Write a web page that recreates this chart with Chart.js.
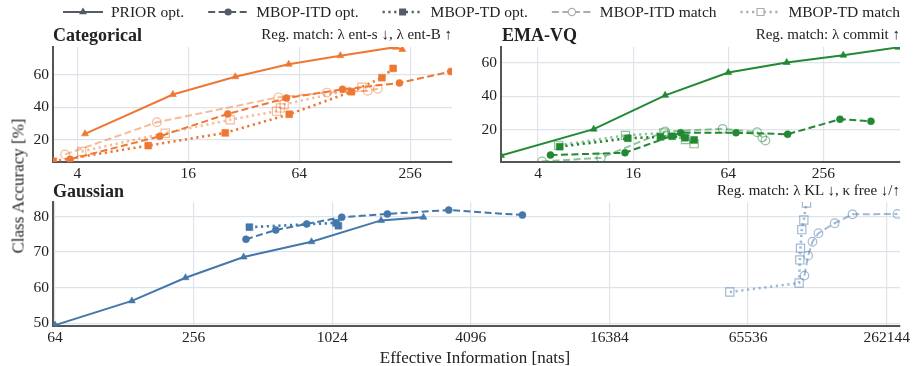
<!DOCTYPE html>
<html>
<head>
<meta charset="utf-8">
<script src="https://cdn.jsdelivr.net/npm/chart.js@4.4.1/dist/chart.umd.min.js"></script>
<style>
  body { margin: 0; background: #fff; width: 913px; height: 366px; position: relative; overflow: hidden;
         font-family: "Liberation Serif", serif; color: #222; }
  canvas { position: absolute; }
  .t { position: absolute; white-space: nowrap; line-height: 1; }
  .b { font-weight: bold; font-size: 18px; }
  .s { font-size: 15px; }
</style>
</head>
<body>
<canvas id="legend" width="913" height="26" style="left:0px;top:0px"></canvas>
<canvas id="cat" width="460" height="146" style="left:0px;top:40px"></canvas>
<canvas id="vq" width="458" height="146" style="left:455px;top:40px"></canvas>
<canvas id="gauss" width="913" height="155" style="left:0px;top:195px"></canvas>

<div class="t b" style="left:53px;top:26px">Categorical</div>
<div class="t s" style="right:461px;top:27px">Reg. match: λ ent-s ↓, λ ent-B ↑</div>
<div class="t b" style="left:502px;top:26px">EMA-VQ</div>
<div class="t s" style="right:13px;top:27px">Reg. match: λ commit ↑</div>
<div class="t b" style="left:53px;top:182px">Gaussian</div>
<div class="t s" style="right:13px;top:183px">Reg. match: λ KL ↓, κ free ↓/↑</div>
<div class="t" style="font-size:17px;left:18px;top:186px;transform:translate(-50%,-50%) rotate(-90deg)">Class Accuracy [%]</div>
<div class="t" style="font-size:17px;left:475px;top:357px;transform:translate(-50%,-50%)">Effective Information [nats]</div>

<script>
const seriesNames = ["PRIOR opt.", "MBOP-ITD opt.", "MBOP-TD opt.", "MBOP-ITD match", "MBOP-TD match"];

// Categorical  [effective info, accuracy]
const catPriorOpt = [[4.4, 23.8], [13.2, 47.9], [28.8, 58.8], [56.1, 66.4], [107, 71.7], [212, 76.9], [232, 75.5]];
const catItdOpt = [[3.65, 8.2], [11.2, 22.3], [26.2, 36.0], [54.6, 45.7], [110, 51.1], [224, 55.0], [425, 62.0]];
const catTdOpt = [[2.96, 7.0], [9.7, 16.6], [25.4, 24.4], [56.5, 35.8], [123, 49.6], [180, 58.2], [207, 63.9]];
const catItdMatch = [[3.43, 11.2], [10.8, 30.9], [49.4, 46.2], [90.5, 49.1], [150.6, 50.2], [171, 51.4]];
const catTdMatch = [[4.22, 13.0], [12.0, 24.2], [27.0, 32.4], [48.2, 37.7], [50.6, 39.7], [53, 41.8], [140, 52.4]];

// EMA-VQ
const vqPriorOpt = [[2.33, 4.8], [9.0, 20.4], [25.5, 40.5], [64, 54.0], [150, 60.0], [342, 64.3], [764, 69.0]];
const vqItdOpt = [[4.79, 5.0], [14.2, 6.4], [32, 18.3], [71.6, 18.3], [152, 17.4], [326, 26.3], [512, 25.1]];
const vqTdOpt = [[5.48, 10.0], [14.8, 15.0], [23.8, 15.8], [28.2, 16.2], [34.1, 15.3], [38.9, 14.0]];
const vqItdMatch = [[4.24, 1.2], [10.0, 3.4], [25.5, 19.0], [58.9, 20.6], [97.4, 18.6], [105, 15.5], [110, 13.6]];
const vqTdMatch = [[5.4, 10.8], [14.3, 16.7], [25, 18.2], [34.3, 14.3], [38.9, 11.8]];

// Gaussian
const gPriorOpt = [[64, 49.5], [138, 56.3], [236, 62.8], [422, 68.6], [832, 72.9], [1669, 78.9], [2550, 79.8]];
const gItdOpt = [[432, 73.6], [582, 76.2], [793, 77.9], [1126, 79.8], [1777, 80.7], [3283, 81.8], [6860, 80.4]];
const gTdOpt = [[447, 77.0], [1064, 78.2], [1089, 77.4]];
const gItdMatch = [[115200, 63.4], [119500, 69.0], [124800, 72.9], [132500, 75.3], [155900, 78.1], [186300, 80.6], [292000, 80.7]];
const gTdMatch = [[54600, 58.8], [109200, 61.3], [110000, 67.8], [110700, 71.1], [112200, 76.3], [114500, 79.0], [117600, 83.8]];

// tick labels
const infoTicksSmall = [4, 16, 64, 256];
const accTicksTop = [20, 40, 60];
const infoTicksGauss = [64, 256, 1024, 4096, 16384, 65536, 262144];
const accTicksGauss = [50, 60, 70, 80];

const ORANGE = "#EE7733", GREEN = "#228833", BLUE = "#4477AA";

const looks = [
  { dash: [], style: "triangle", radius: 4, open: false, fade: 1, width: 2 },
  { dash: [7, 3.5], style: "circle", radius: 3.5, open: false, fade: 1, width: 2 },
  { dash: [2.2, 3.6], style: "rect", radius: 4.8, open: false, fade: 1, width: 2.6 },
  { dash: [7, 3.5], style: "circle", radius: 4.3, open: true, fade: 0.5, width: 2 },
  { dash: [2.2, 3.6], style: "rect", radius: 5.8, open: true, fade: 0.5, width: 2.6 },
];

function rgba(hex, a) {
  const n = parseInt(hex.slice(1), 16);
  return `rgba(${n >> 16},${(n >> 8) & 255},${n & 255},${a})`;
}

function makeSets(list, color) {
  return list.map((pts, i) => {
    const lk = looks[i];
    const c = rgba(color, lk.fade);
    return {
      label: seriesNames[i],
      data: pts.map(p => ({ x: p[0], y: p[1] })),
      showLine: true,
      borderColor: c,
      borderWidth: lk.width,
      borderDash: lk.dash,
      pointStyle: lk.style,
      pointRadius: lk.radius,
      pointBackgroundColor: lk.open ? "rgba(255,255,255,0)" : c,
      pointBorderColor: c,
      pointBorderWidth: lk.open ? 1.2 : 0.6,
      tension: 0,
    };
  });
}

const tickFont = { family: "Liberation Serif", size: 15.5 };

function scales(xMin, xMax, xTicks, yMin, yMax, yTicks, yWidth) {
  return {
    x: {
      type: "logarithmic", min: xMin, max: xMax,
      afterBuildTicks: s => { s.ticks = xTicks.map(v => ({ value: v })); },
      afterFit: s => { s.height = 24; s.paddingLeft = 0; s.paddingRight = 0; },
      ticks: { callback: v => String(v), font: tickFont, color: "#222", padding: 3, maxRotation: 0, autoSkip: false },
      grid: { color: "#dfe3ea", lineWidth: 1.2, drawTicks: false },
      border: { color: "#555", width: 2 },
    },
    y: {
      type: "linear", min: yMin, max: yMax,
      afterBuildTicks: s => { s.ticks = yTicks.map(v => ({ value: v })); },
      afterFit: s => { s.width = yWidth; s.paddingTop = 0; s.paddingBottom = 0; },
      ticks: { font: tickFont, color: "#222", padding: 4 },
      grid: { color: "#dfe3ea", lineWidth: 1.2, drawTicks: false },
      border: { color: "#555", width: 2 },
    },
  };
}

function panel(id, sets, sc, pad) {
  new Chart(document.getElementById(id), {
    type: "scatter",
    data: { datasets: sets },
    options: {
      responsive: false, animation: false, devicePixelRatio: 1, events: [],
      layout: { padding: pad },
      plugins: { legend: { display: false }, tooltip: { enabled: false } },
      scales: sc,
    },
  });
}

panel("cat", makeSets([catPriorOpt, catItdOpt, catTdOpt, catItdMatch, catTdMatch], ORANGE),
  scales(2.95, 432, infoTicksSmall, 6.55, 77, accTicksTop, 53), { top: 5, right: 8, left: 0, bottom: 0 });
panel("vq", makeSets([vqPriorOpt, vqItdOpt, vqTdOpt, vqItdMatch, vqTdMatch], GREEN),
  scales(2.33, 782, infoTicksSmall, 0.9, 69.2, accTicksTop, 46), { top: 5, right: 13, left: 0, bottom: 0 });
panel("gauss", makeSets([gPriorOpt, gItdOpt, gTdOpt, gItdMatch, gTdMatch], BLUE),
  scales(62.7, 299600, infoTicksGauss, 49.25, 84.06, accTicksGauss, 53), { top: 5, right: 13, left: 0, bottom: 0 });

// legend (grey handles), spread from x=63 to x=900
(function drawLegend() {
  const ctx = document.getElementById("legend").getContext("2d");
  const y = 12, handle = 40, pad = 8, start = 63, end = 900;
  const cols = ["#555b66", "#555b66", "#555b66", "#a9adb3", "#a9adb3"];
  ctx.font = "15.5px 'Liberation Serif'";
  ctx.textBaseline = "middle";
  const widths = seriesNames.map(n => ctx.measureText(n).width);
  const gap = (end - start - 5 * (handle + pad) - widths.reduce((a, b) => a + b, 0)) / 4;
  let x = start;
  seriesNames.forEach((name, i) => {
    const lk = looks[i];
    ctx.strokeStyle = cols[i];
    ctx.lineWidth = lk.width;
    ctx.setLineDash(lk.dash);
    ctx.beginPath(); ctx.moveTo(x, y); ctx.lineTo(x + handle, y); ctx.stroke();
    ctx.setLineDash([]);
    const cx = x + handle / 2, r = lk.radius * 0.85;
    ctx.fillStyle = lk.open ? "#fff" : cols[i];
    ctx.lineWidth = 1.2;
    ctx.beginPath();
    if (lk.style === "triangle") {
      ctx.moveTo(cx, y - r); ctx.lineTo(cx + r * 0.866, y + r / 2); ctx.lineTo(cx - r * 0.866, y + r / 2); ctx.closePath();
    } else if (lk.style === "circle") {
      ctx.arc(cx, y, r, 0, Math.PI * 2);
    } else {
      const h = r * Math.SQRT1_2; ctx.rect(cx - h, y - h, 2 * h, 2 * h);
    }
    ctx.fill(); ctx.stroke();
    ctx.fillStyle = "#222";
    ctx.fillText(name, x + handle + pad, y + 1);
    x += handle + pad + widths[i] + gap;
  });
})();
</script>
</body>
</html>
